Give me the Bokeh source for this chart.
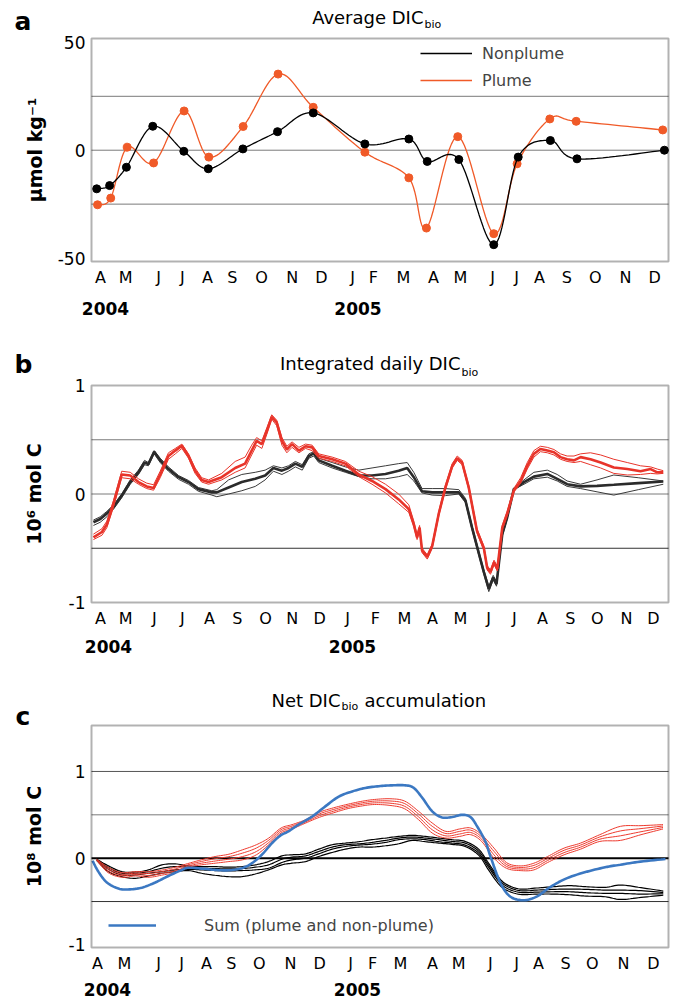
import numpy as np
from bokeh.plotting import figure
from bokeh.layouts import column
from bokeh.models import FixedTicker, Label, Legend, LegendItem, Range1d, BoxAnnotation
from bokeh.core.properties import value
from bokeh.embed import file_html
from bokeh.resources import INLINE

FONT = "DejaVu Sans"

# ---------------- data (x = months from left edge of the time axis, Apr 2004) ----------------
MONTHS = ["A", "M", "J", "J", "A", "S", "O", "N", "D", "J", "F", "M",
          "A", "M", "J", "J", "A", "S", "O", "N", "D"]
YEARS = ["2004", "2005"]
a_month_pos = [0.33, 1.24, 2.44, 3.31, 4.22, 5.13, 6.19, 7.31, 8.37, 9.50, 10.26, 11.35,
               12.45, 13.43, 14.60, 15.47, 16.30, 17.30, 18.34, 19.43, 20.50]
b_month_pos = [0.33, 1.24, 2.29, 3.31, 4.29, 5.31, 6.33, 7.31, 8.30, 9.32, 10.33, 11.39,
               12.41, 13.43, 14.45, 15.39, 16.41, 17.43, 18.41, 19.47, 20.45]
c_month_pos = [0.22, 1.20, 2.44, 3.28, 4.18, 5.09, 6.11, 7.24, 8.30, 9.43, 10.23, 11.24,
               12.41, 13.36, 14.52, 15.47, 16.27, 17.25, 18.23, 19.36, 20.45]

# panel a: average DIC_bio (umol/kg)
a_np_x = [0.19, 0.66, 1.27, 2.23, 3.36, 4.25, 5.51, 6.77, 8.07, 9.95, 11.55, 12.22,
          13.37, 14.64, 15.53, 16.70, 17.67, 20.85]
a_np_y = [-17.9, -16.4, -7.9, 11.1, -0.5, -8.6, 0.6, 8.6, 17.3, 2.9, 5.2, -5.2,
          -4.3, -43.8, -3.2, 4.5, -4.0, 0.0]
a_pl_x = [0.22, 0.70, 1.30, 2.26, 3.37, 4.27, 5.52, 6.79, 8.07, 9.95, 11.55, 12.19,
          13.33, 14.64, 15.49, 16.68, 17.64, 20.79]
a_pl_y = [-25.3, -22.2, 1.4, -5.9, 18.2, -3.2, 11.0, 35.3, 19.9, -0.9, -12.8, -36.1,
          6.3, -38.7, -6.3, 14.5, 13.4, 9.4]

# panel b: integrated daily DIC_bio (10^6 mol C)
b_red_x = [0.07, 0.38, 0.56, 0.80, 1.10, 1.41, 1.71, 2.01, 2.26, 2.50, 2.80, 3.05, 3.29, 3.53,
           3.77, 4.01, 4.26, 4.74, 5.23, 5.59, 5.83, 6.01, 6.20, 6.38, 6.56, 6.74, 6.93, 7.11,
           7.30, 7.55, 7.79, 8.03, 8.27, 8.76, 9.24, 9.73, 10.21, 10.70, 11.18, 11.55, 11.73,
           11.85, 11.94, 12.03, 12.22, 12.40, 12.64, 12.88, 13.13, 13.31, 13.49, 13.73, 14.03,
           14.28, 14.40, 14.52, 14.65, 14.77, 14.95, 15.13, 15.37, 15.62, 15.86, 16.10, 16.34,
           16.59, 16.83, 17.07, 17.31, 17.56, 17.80, 18.16, 18.53, 19.01, 19.50, 19.98, 20.35,
           20.59, 20.81]
b_red_mid = [-0.40, -0.35, -0.28, -0.09, 0.18, 0.17, 0.11, 0.07, 0.055, 0.18, 0.35, 0.40, 0.445,
             0.35, 0.215, 0.13, 0.11, 0.155, 0.24, 0.28, 0.40, 0.49, 0.46, 0.58, 0.71, 0.66, 0.49,
             0.41, 0.46, 0.40, 0.44, 0.43, 0.35, 0.32, 0.28, 0.18, 0.12, 0.045, -0.05, -0.14,
             -0.28, -0.40, -0.31, -0.52, -0.58, -0.48, -0.18, 0.06, 0.26, 0.33, 0.29, 0.06, -0.34,
             -0.50, -0.68, -0.72, -0.63, -0.69, -0.31, -0.18, 0.03, 0.12, 0.26, 0.37, 0.415, 0.40,
             0.385, 0.34, 0.32, 0.31, 0.34, 0.32, 0.29, 0.245, 0.23, 0.21, 0.23, 0.20, 0.20]
b_red_hi = [-0.37, -0.32, -0.25, -0.06, 0.21, 0.20, 0.14, 0.10, 0.085, 0.21, 0.38, 0.42, 0.46,
            0.37, 0.24, 0.15, 0.13, 0.19, 0.30, 0.34, 0.45, 0.52, 0.49, 0.61, 0.73, 0.68, 0.52,
            0.44, 0.48, 0.43, 0.46, 0.45, 0.37, 0.34, 0.30, 0.21, 0.16, 0.09, 0.00, -0.10,
            -0.25, -0.38, -0.29, -0.50, -0.56, -0.46, -0.16, 0.08, 0.28, 0.35, 0.31, 0.08, -0.32,
            -0.48, -0.66, -0.70, -0.61, -0.67, -0.29, -0.16, 0.05, 0.15, 0.29, 0.40, 0.44, 0.43,
            0.41, 0.37, 0.35, 0.35, 0.37, 0.38, 0.36, 0.32, 0.29, 0.26, 0.25, 0.23, 0.215]
b_red_lo = [-0.42, -0.38, -0.31, -0.12, 0.15, 0.14, 0.09, 0.05, 0.035, 0.15, 0.32, 0.37, 0.42,
            0.33, 0.19, 0.11, 0.09, 0.13, 0.20, 0.24, 0.36, 0.45, 0.42, 0.55, 0.69, 0.63, 0.45,
            0.38, 0.43, 0.38, 0.42, 0.40, 0.33, 0.30, 0.26, 0.16, 0.09, 0.01, -0.09, -0.17,
            -0.30, -0.42, -0.33, -0.54, -0.60, -0.50, -0.20, 0.04, 0.24, 0.31, 0.27, 0.04, -0.36,
            -0.52, -0.70, -0.74, -0.65, -0.71, -0.33, -0.20, 0.02, 0.10, 0.23, 0.34, 0.39, 0.38,
            0.36, 0.32, 0.30, 0.29, 0.30, 0.27, 0.24, 0.19, 0.175, 0.18, 0.19, 0.185, 0.19]
b_blk_x = [0.07, 0.32, 0.56, 0.80, 1.10, 1.41, 1.71, 1.93, 2.07, 2.28, 2.50, 2.80, 3.17, 3.53,
           3.89, 4.38, 4.56, 4.99, 5.47, 5.96, 6.32, 6.62, 6.93, 7.17, 7.42, 7.67, 7.91, 8.09,
           8.27, 8.76, 9.24, 9.73, 10.21, 10.70, 11.18, 11.49, 11.73, 12.03, 12.40, 12.88, 13.37,
           13.61, 13.85, 14.10, 14.28, 14.46, 14.62, 14.74, 14.95, 15.13, 15.37, 15.74, 16.10,
           16.59, 16.95, 17.31, 17.80, 18.40, 19.01, 19.90, 20.81]
b_blk_mid = [-0.26, -0.23, -0.18, -0.12, -0.015, 0.11, 0.20, 0.29, 0.275, 0.39, 0.31, 0.23, 0.155,
             0.11, 0.045, 0.015, 0.015, 0.06, 0.11, 0.14, 0.17, 0.24, 0.215, 0.24, 0.28, 0.25,
             0.35, 0.375, 0.31, 0.26, 0.215, 0.17, 0.17, 0.185, 0.215, 0.24, 0.155, 0.025, 0.015,
             0.015, 0.015, -0.06, -0.31, -0.55, -0.72, -0.875, -0.77, -0.83, -0.37, -0.215, 0.045,
             0.11, 0.16, 0.185, 0.14, 0.09, 0.07, 0.075, 0.085, 0.10, 0.115]
b_blk_hi = [-0.24, -0.21, -0.16, -0.10, 0.00, 0.13, 0.22, 0.31, 0.29, 0.40, 0.33, 0.25, 0.17,
            0.125, 0.06, 0.03, 0.04, 0.13, 0.18, 0.20, 0.22, 0.26, 0.24, 0.26, 0.30, 0.27, 0.37,
            0.39, 0.33, 0.29, 0.25, 0.22, 0.24, 0.26, 0.28, 0.29, 0.20, 0.05, 0.05, 0.05, 0.04,
            -0.04, -0.29, -0.53, -0.70, -0.85, -0.75, -0.81, -0.35, -0.20, 0.05, 0.13, 0.20, 0.22,
            0.18, 0.12, 0.09, 0.13, 0.175, 0.15, 0.12]
b_blk_lo = [-0.29, -0.26, -0.21, -0.14, -0.035, 0.09, 0.18, 0.27, 0.26, 0.37, 0.29, 0.21, 0.135,
            0.09, 0.025, -0.01, -0.025, 0.00, 0.03, 0.07, 0.13, 0.21, 0.18, 0.21, 0.25, 0.22, 0.33,
            0.35, 0.29, 0.24, 0.20, 0.16, 0.14, 0.14, 0.16, 0.18, 0.12, 0.01, -0.01, -0.015, 0.00,
            -0.08, -0.33, -0.57, -0.74, -0.90, -0.79, -0.85, -0.39, -0.23, 0.04, 0.09, 0.14, 0.155,
            0.12, 0.07, 0.05, 0.02, -0.01, 0.04, 0.09]

# panel c: net DIC_bio accumulation (10^8 mol C)
c_red_x = [0.19, 0.6, 1.1, 1.6, 2.1, 2.6, 3.05, 3.55, 4.0, 4.5, 5.0, 5.5, 6.0, 6.45, 6.9, 7.3,
           7.8, 8.3, 8.8, 9.3, 9.8, 10.3, 10.9, 11.4, 11.9, 12.4, 12.9, 13.4, 13.8, 14.2, 14.65,
           15.1, 15.6, 16.1, 16.6, 17.2, 17.8, 18.5, 19.25, 20.0, 20.8]
c_red1 = [-0.012, -0.104, -0.166, -0.155, -0.155, -0.135, -0.104, -0.058, -0.019, 0.019, 0.046,
          0.097, 0.155, 0.232, 0.348, 0.387, 0.445, 0.53, 0.58, 0.62, 0.654, 0.677, 0.685, 0.658,
          0.542, 0.406, 0.309, 0.337, 0.348, 0.271, 0.116, -0.05, -0.089, -0.058, 0.019, 0.116,
          0.174, 0.271, 0.367, 0.375, 0.387]
c_red2 = [-0.017, -0.124, -0.184, -0.172, -0.176, -0.154, -0.124, -0.073, -0.038, -0.006, 0.018,
          0.059, 0.117, 0.207, 0.329, 0.371, 0.432, 0.511, 0.561, 0.603, 0.636, 0.658, 0.659,
          0.629, 0.510, 0.368, 0.284, 0.309, 0.323, 0.245, 0.078, -0.072, -0.107, -0.083, -0.004,
          0.091, 0.151, 0.245, 0.314, 0.341, 0.371]
c_red3 = [-0.022, -0.146, -0.202, -0.189, -0.199, -0.174, -0.146, -0.089, -0.058, -0.033, -0.011,
          0.019, 0.077, 0.180, 0.309, 0.354, 0.419, 0.491, 0.541, 0.586, 0.618, 0.638, 0.633,
          0.598, 0.477, 0.328, 0.257, 0.279, 0.296, 0.219, 0.038, -0.094, -0.125, -0.110, -0.027,
          0.064, 0.127, 0.219, 0.258, 0.305, 0.354]
c_red4 = [-0.027, -0.166, -0.22, -0.205, -0.22, -0.193, -0.166, -0.104, -0.077, -0.058, -0.039,
          -0.019, 0.039, 0.155, 0.29, 0.337, 0.406, 0.472, 0.522, 0.569, 0.60, 0.619, 0.607, 0.569,
          0.445, 0.29, 0.232, 0.251, 0.271, 0.193, 0.0, -0.116, -0.143, -0.135, -0.05, 0.039,
          0.104, 0.193, 0.205, 0.271, 0.337]
c_blk_x = [0.19, 0.62, 1.10, 1.59, 2.07, 2.56, 3.05, 3.53, 4.01, 4.50, 4.99, 5.47, 5.96, 6.44,
           6.93, 7.30, 7.79, 8.27, 8.76, 9.24, 9.73, 10.21, 10.70, 11.18, 11.67, 12.15, 12.64,
           13.12, 13.60, 14.09, 14.45, 14.80, 15.10, 15.60, 16.20, 16.80, 17.40, 18.00, 18.70,
           19.25, 20.00, 20.81]
c_blk1 = [-0.012, -0.089, -0.155, -0.159, -0.135, -0.077, -0.066, -0.089, -0.097, -0.097, -0.104,
          -0.097, -0.077, -0.039, 0.027, 0.039, 0.050, 0.104, 0.155, 0.174, 0.190, 0.213, 0.232,
          0.251, 0.263, 0.251, 0.232, 0.213, 0.193, 0.104, -0.058, -0.213, -0.302, -0.356, -0.344,
          -0.329, -0.317, -0.329, -0.337, -0.309, -0.340, -0.379]
c_blk2 = [-0.019, -0.108, -0.174, -0.174, -0.155, -0.116, -0.097, -0.104, -0.116, -0.120, -0.124,
          -0.120, -0.104, -0.077, -0.012, 0.012, 0.027, 0.077, 0.128, 0.155, 0.166, 0.182, 0.205,
          0.232, 0.244, 0.232, 0.213, 0.193, 0.174, 0.081, -0.081, -0.236, -0.321, -0.375, -0.368,
          -0.360, -0.356, -0.360, -0.368, -0.368, -0.375, -0.395]
c_blk3 = [-0.023, -0.128, -0.193, -0.193, -0.174, -0.155, -0.135, -0.128, -0.135, -0.143, -0.147,
          -0.143, -0.135, -0.116, -0.050, -0.019, 0.0, 0.050, 0.104, 0.135, 0.151, 0.162, 0.182,
          0.213, 0.224, 0.213, 0.190, 0.174, 0.151, 0.058, -0.104, -0.259, -0.344, -0.395, -0.391,
          -0.387, -0.387, -0.398, -0.406, -0.406, -0.414, -0.410]
c_blk4 = [-0.027, -0.155, -0.213, -0.232, -0.205, -0.174, -0.155, -0.143, -0.174, -0.197, -0.213,
          -0.213, -0.182, -0.135, -0.077, -0.058, -0.039, 0.019, 0.066, 0.104, 0.128, 0.128, 0.143,
          0.166, 0.205, 0.190, 0.174, 0.159, 0.135, 0.035, -0.135, -0.290, -0.368, -0.418, -0.414,
          -0.414, -0.422, -0.437, -0.445, -0.476, -0.453, -0.426]
c_sum_x = [0.04, 0.25, 0.56, 0.98, 1.35, 1.83, 2.32, 2.80, 3.29, 3.53, 4.01, 4.50, 4.99, 5.47,
           5.83, 6.20, 6.56, 6.87, 7.17, 7.55, 8.03, 8.52, 9.00, 9.49, 9.97, 10.46, 10.94, 11.43,
           11.73, 12.03, 12.40, 12.76, 13.13, 13.49, 13.79, 14.03, 14.34, 14.52, 14.89, 15.25,
           15.74, 16.22, 16.71, 17.31, 18.04, 18.77, 19.25, 19.98, 20.89]
c_sum_y = [-0.03, -0.155, -0.28, -0.35, -0.36, -0.34, -0.28, -0.205, -0.135, -0.11, -0.12, -0.135,
           -0.14, -0.115, -0.06, 0.04, 0.17, 0.26, 0.31, 0.39, 0.48, 0.60, 0.71, 0.77, 0.81, 0.83,
           0.84, 0.84, 0.81, 0.70, 0.54, 0.47, 0.475, 0.50, 0.475, 0.37, 0.19, 0.02, -0.29, -0.445,
           -0.485, -0.44, -0.33, -0.23, -0.155, -0.10, -0.075, -0.04, -0.01]

# axis ticks / grid levels
A_YTICKS, A_GRID = [-50, 0, 50], [-25, 0, 25]
B_YTICKS, B_GRID = [-1, 0, 1], [-0.5, 0, 0.5]
C_YTICKS, C_GRID = [-1, 0, 1], [-0.5, 0, 0.5, 1]

# ---------------- colours ----------------
ORANGE = "#F05A28"
RED_B = "#E8342A"
RED_C = "#EE3B2F"
BLUE = "#3B78C2"
BLK = "#000000"
DARK = "#2b2b2b"
GRID = "#7a7a7a"


def smooth(xs, ys, n=16):
    """Catmull-Rom smoothing used for drawing (like a spreadsheet 'smoothed line')."""
    P = np.column_stack([np.asarray(xs, float), np.asarray(ys, float)])
    P = np.vstack([P[0], P, P[-1]])
    t = np.linspace(0, 1, n, endpoint=False)[:, None]
    segs = []
    for i in range(1, len(P) - 2):
        p0, p1, p2, p3 = P[i - 1], P[i], P[i + 1], P[i + 2]
        segs.append(0.5 * (2 * p1 + (p2 - p0) * t + (2 * p0 - 5 * p1 + 4 * p2 - p3) * t ** 2
                           + (3 * p1 - p0 - 3 * p2 + p3) * t ** 3))
    segs.append(P[-2][None, :])
    S = np.vstack(segs)
    return S[:, 0], S[:, 1]


W = 676                      # figure width (page px)
BOX_L, BOX_R = 91.0, 668.0   # page px of the chart box
XMIN, XMAX = 0.0, 21.0       # data x of the chart box


def px2x(px):
    return XMIN + (px - BOX_L) / (BOX_R - BOX_L) * (XMAX - XMIN)


def make_fig(page_top, page_bottom, box_top, box_bottom, ybox, yticks, grid, ylabel,
             month_pos, grid_colors, ylabel_x):
    upp = (ybox[1] - ybox[0]) / (box_bottom - box_top)
    y_hi = ybox[1] + (box_top - page_top) * upp
    y_lo = ybox[0] - (page_bottom - box_bottom) * upp
    p = figure(width=W, height=page_bottom - page_top,
               x_range=Range1d(px2x(0), px2x(W)), y_range=Range1d(y_lo, y_hi),
               output_backend="svg", toolbar_location=None,
               min_border=0, min_border_left=0, min_border_right=0,
               min_border_top=0, min_border_bottom=0)
    p.outline_line_color = None
    p.background_fill_color = "white"
    p.border_fill_color = "white"
    p.xgrid.visible = False
    p.ygrid.visible = False

    def conv(py):
        return y_hi - (py - page_top) * upp

    # horizontal grid lines across the chart box
    p.segment(x0=[XMIN] * len(grid), x1=[XMAX] * len(grid), y0=grid, y1=grid,
              line_color=grid_colors, line_width=[2 if c == "#000000" else 1 for c in grid_colors])

    for ax in (p.xaxis[0], p.yaxis[0]):
        ax.axis_line_color = None
        ax.major_tick_line_color = None
        ax.minor_tick_line_color = None
        ax.major_tick_in = 0
        ax.major_tick_out = 0
        ax.minor_tick_in = 0
        ax.minor_tick_out = 0
        ax.major_label_text_font = FONT
        ax.major_label_text_color = "black"
    p.xaxis.fixed_location = ybox[0]
    p.xaxis.ticker = FixedTicker(ticks=month_pos)
    p.xaxis.major_label_overrides = {t: m for t, m in zip(month_pos, MONTHS)}
    p.xaxis.major_label_text_font_size = "16px"
    p.xaxis.major_label_standoff = 6
    p.yaxis.fixed_location = XMIN
    p.yaxis.ticker = FixedTicker(ticks=yticks)
    p.yaxis.major_label_overrides = {t: str(t) for t in yticks}
    p.yaxis.major_label_text_font_size = "17px"
    p.yaxis.major_label_standoff = 6

    # the chart box
    p.add_layout(BoxAnnotation(left=XMIN, right=XMAX, bottom=ybox[0], top=ybox[1],
                               fill_color=None, fill_alpha=0, line_color="black",
                               line_width=2))
    # y axis title
    p.add_layout(Label(x=px2x(ylabel_x), y=conv((box_top + box_bottom) / 2), text=ylabel,
                       angle=np.pi / 2, text_font=FONT, text_font_size="19px",
                       text_font_style="bold", text_align="center", text_baseline="middle",
                       text_color="black"))
    return p, conv


def add_text(p, conv, xpx, ypx, text, size, bold=False, align="center"):
    p.add_layout(Label(x=px2x(xpx), y=conv(ypx), text=text, text_font=FONT,
                       text_font_size=f"{size}px",
                       text_font_style="bold" if bold else "normal",
                       text_align=align, text_baseline="alphabetic", text_color="black"))


# ---------------- panel a ----------------
pa, ya = make_fig(0, 335, 38, 261, (-51.6, 51.8), A_YTICKS, A_GRID, "μmol kg⁻¹",
                  a_month_pos, [GRID, GRID, GRID], 34)
sx, sy = smooth(a_pl_x, a_pl_y)
r_pl = pa.line(sx, sy, line_color=ORANGE, line_width=1.3)
pa.scatter(a_pl_x, a_pl_y, marker="circle", size=8, fill_color=ORANGE, line_color=ORANGE)
sx, sy = smooth(a_np_x, a_np_y)
r_np = pa.line(sx, sy, line_color=BLK, line_width=1.3)
pa.scatter(a_np_x, a_np_y, marker="circle", size=8, fill_color=BLK, line_color=BLK)
leg_a = Legend(items=[LegendItem(label=value("Nonplume"), renderers=[r_np]),
                      LegendItem(label=value("Plume"), renderers=[r_pl])],
               location=(420, 245), padding=0, margin=0, spacing=7,
               glyph_width=52, glyph_height=20, label_height=20, label_standoff=10,
               label_text_font=FONT, label_text_font_size="16px",
               border_line_color=None, background_fill_alpha=0)
pa.add_layout(leg_a)
add_text(pa, ya, 423, 17, "Average DIC", 18, align="right")
add_text(pa, ya, 424, 23.5, "bio", 11, align="left")
add_text(pa, ya, 14, 20.5, "a", 25, bold=True, align="left")
add_text(pa, ya, 105, 308, YEARS[0], 17, bold=True)
add_text(pa, ya, 357.5, 308, YEARS[1], 17, bold=True)

# ---------------- panel b ----------------
pb, yb = make_fig(335, 670, 385, 602, (-1.0, 1.0), B_YTICKS, B_GRID, "10⁶ mol C",
                  b_month_pos, ["#333333", GRID, GRID], 33)
for ys in (b_blk_hi, b_blk_lo):
    pb.line(b_blk_x, ys, line_color="#3a3a3a", line_width=1)
pb.line(b_blk_x, b_blk_mid, line_color=DARK, line_width=2.6)
for ys in (b_red_hi, b_red_lo):
    pb.line(b_red_x, ys, line_color=RED_B, line_width=1)
pb.line(b_red_x, b_red_mid, line_color=RED_B, line_width=2.6)
add_text(pb, yb, 460, 363, "Integrated daily DIC", 18, align="right")
add_text(pb, yb, 461, 372, "bio", 11, align="left")
add_text(pb, yb, 14, 364, "b", 25, bold=True, align="left")
add_text(pb, yb, 108, 646, YEARS[0], 17, bold=True)
add_text(pb, yb, 352, 646, YEARS[1], 17, bold=True)

# ---------------- panel c ----------------
pc, yc = make_fig(670, 1002, 725, 947, (-1.03, 1.53), C_YTICKS, C_GRID, "10⁸ mol C",
                  c_month_pos, ["#333333", "#000000", GRID, "#555555"], 33)
for ys in (c_blk1, c_blk2, c_blk3, c_blk4):
    sx, sy = smooth(c_blk_x, ys, 8)
    pc.line(sx, sy, line_color=BLK, line_width=1.2)
for ys in (c_red1, c_red2, c_red3, c_red4):
    sx, sy = smooth(c_red_x, ys, 8)
    pc.line(sx, sy, line_color=RED_C, line_width=1)
sx, sy = smooth(c_sum_x, c_sum_y, 8)
r_sum = pc.line(sx, sy, line_color=BLUE, line_width=2.6)
leg_c = Legend(items=[LegendItem(label=value("Sum (plume and non-plume)"), renderers=[r_sum])],
               location=(108, 67), padding=0, margin=0, spacing=0,
               glyph_width=48, glyph_height=20, label_height=20, label_standoff=48,
               label_text_font=FONT, label_text_font_size="16px",
               border_line_color=None, background_fill_alpha=0)
pc.add_layout(leg_c)
add_text(pc, yc, 340, 699.5, "Net DIC", 18, align="right")
add_text(pc, yc, 341, 705.5, "bio", 11, align="left")
add_text(pc, yc, 364, 699.5, "accumulation", 18, align="left")
add_text(pc, yc, 15, 716, "c", 25, bold=True, align="left")
add_text(pc, yc, 107, 989, YEARS[0], 17, bold=True)
add_text(pc, yc, 357, 989, YEARS[1], 17, bold=True)

layout = column(pa, pb, pc, spacing=0)
open("out.html", "w").write(file_html(layout, INLINE))
